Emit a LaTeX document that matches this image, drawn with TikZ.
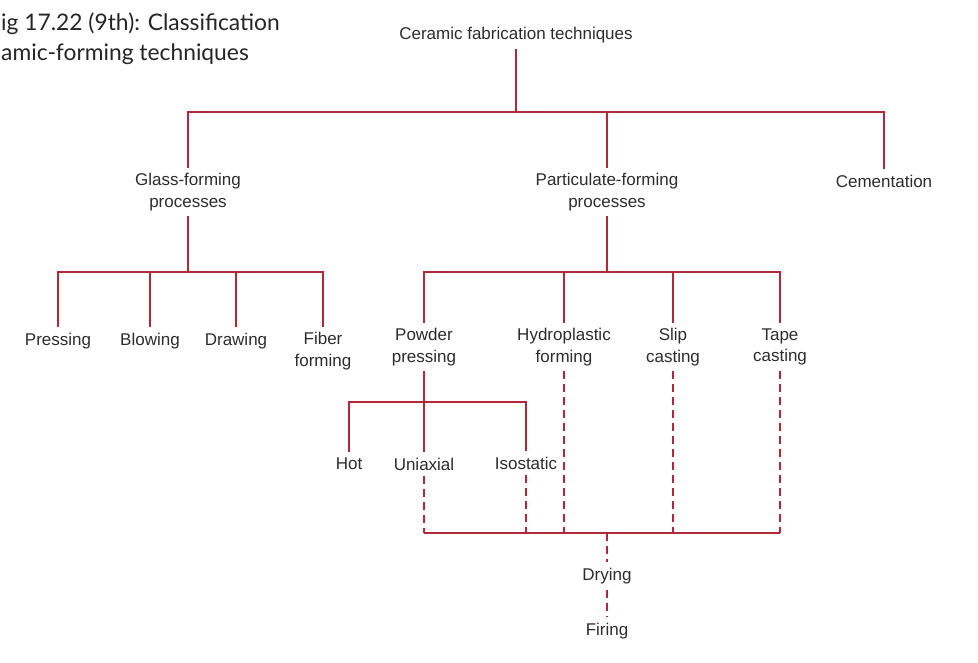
\documentclass[tikz,border=0pt]{standalone}
\usepackage{fontspec}
\setmainfont{Liberation Sans}
\newfontfamily\titlefont{Lato}
\definecolor{treered}{RGB}{178,40,58}
\definecolor{labelgray}{RGB}{45,45,45}

\begin{document}
\begin{tikzpicture}[x=1pt,y=-1pt,
    lbl/.style={align=center,inner sep=5.5pt,text=labelgray,font=\fontsize{17}{21.5}\selectfont},
    tree/.style={draw=treered,line width=1.8pt},
    dashline/.style={tree,dash pattern=on 8pt off 5pt}]
    \useasboundingbox[fill=white] (0,0) rectangle (978,662);

    \node (title) at (1,39) [anchor=west,align=left,inner sep=0pt,text=black!85,font=\titlefont\fontsize{22.8}{30}\selectfont] {ig 17.22 (9th): Classification\\amic-forming techniques};

    \node (root) at (516,35) [lbl] {Ceramic fabrication techniques};
    \node (glass) at (188,192) [lbl] {Glass-forming\\processes};
    \node (part) at (607,192) [lbl] {Particulate-forming\\processes};
    \node (cem) at (884,181) [lbl] {Cementation};

    \node (press) at (58,341) [lbl] {Pressing};
    \node (blow) at (150,341) [lbl] {Blowing};
    \node (drawing) at (236,341) [lbl] {Drawing};
    \node (fiber) at (323,351) [lbl] {Fiber\\forming};

    \node (powder) at (424,347) [lbl] {Powder\\pressing};
    \node (hydro) at (564,347) [lbl] {Hydroplastic\\forming};
    \node (slip) at (673,347) [lbl] {Slip\\casting};
    \node (tape) at (780,347) [lbl] {Tape\\casting};

    \node (hot) at (349,464) [lbl] {Hot};
    \node (uni) at (424,464) [lbl] {Uniaxial};
    \node (iso) at (526,463) [lbl] {Isostatic};

    \node (dry) at (607,576) [lbl] {Drying};
    \node (fire) at (607,631) [lbl] {Firing};

    \coordinate (rootj) at (516,112);
    \coordinate (glassj) at (188,272);
    \coordinate (partj) at (607,272);
    \coordinate (powj) at (424,402);
    \coordinate (bus) at (607,533);

    \draw[tree] (root) -- (rootj) (rootj) -| (glass) (rootj) -| (part) (rootj) -| (cem);
    \draw[tree] (glass) -- (glassj) (glassj) -| (press) (glassj) -| (blow) (glassj) -| (drawing) (glassj) -| (fiber);
    \draw[tree] (part) -- (partj) (partj) -| (powder) (partj) -| (hydro) (partj) -| (slip) (partj) -| (tape);
    \draw[tree] (powder) -- (uni) (powj) -| (hot) (powj) -| (iso);
    \draw[tree] (uni |- bus) -- (tape |- bus);

    \draw[dashline] (uni) -- (uni |- bus) (iso) -- (iso |- bus) (hydro) -- (hydro |- bus) (slip) -- (slip |- bus) (tape) -- (tape |- bus);
    \draw[dashline] (bus) -- (dry) (dry) -- (fire);

\end{tikzpicture}
\end{document}
